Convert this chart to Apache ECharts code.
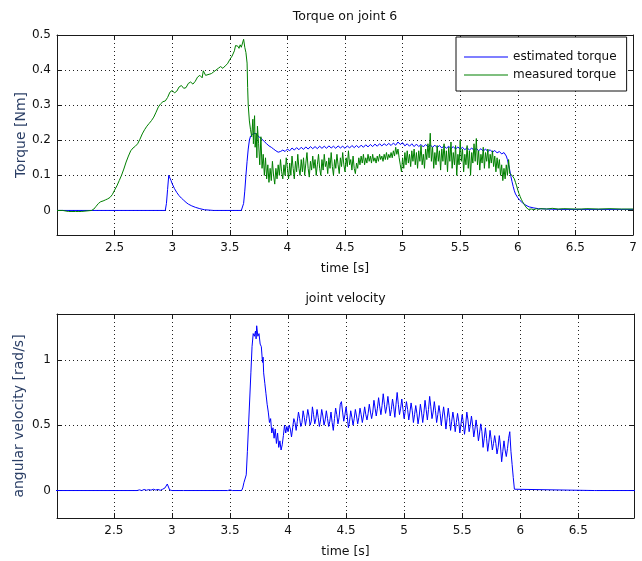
<!DOCTYPE html>
<html>
<head>
<meta charset="utf-8">
<script src="https://cdn.jsdelivr.net/npm/echarts@6/dist/echarts.min.js"></script>
<style>
html,body{margin:0;padding:0;background:#fff;}
#chart{width:642px;height:561px;}
</style>
</head>
<body>
<div id="chart"></div>
<script>
// ---------------- data ----------------
const topTitle = 'Torque on joint 6';
const bottomTitle = 'joint velocity';
const xName = 'time [s]';
const topYName = 'Torque [Nm]';
const bottomYName = 'angular velocity [rad/s]';
const seriesNames = ['estimated torque', 'measured torque'];

const estimatedTorque = [
[2.00,0],[2.94,0],[2.95,0.02],[2.96,0.06],[2.97,0.1],[2.98,0.095],[2.99,0.085],[3.00,0.076],[3.02,0.062],[3.04,0.051],[3.06,0.042],[3.08,0.035],[3.10,0.029],[3.12,0.023],[3.14,0.018],[3.17,0.013],[3.20,0.009],[3.24,0.005],[3.28,0.002],[3.32,0.001],[3.36,0],[3.60,0],[3.61,0.005],[3.62,0.02],[3.63,0.055],[3.64,0.1],[3.65,0.14],[3.66,0.175],[3.67,0.2],[3.68,0.212],[3.70,0.218],[3.72,0.22],[3.74,0.214],[3.76,0.208],[3.78,0.203],[3.80,0.196],[3.82,0.19],[3.84,0.184],[3.86,0.18],[3.88,0.175],[3.90,0.17],[3.92,0.166],[3.94,0.168],
[3.96,0.172],[3.98,0.168],[4.00,0.175],[4.02,0.17],[4.04,0.178],[4.06,0.172],[4.08,0.179],[4.10,0.173],[4.12,0.18],[4.14,0.174],[4.16,0.181],[4.18,0.175],[4.20,0.182],[4.22,0.176],[4.24,0.182],[4.26,0.176],[4.28,0.183],[4.30,0.177],[4.32,0.183],[4.34,0.177],[4.36,0.184],[4.38,0.178],[4.40,0.183],[4.42,0.177],[4.44,0.184],[4.46,0.178],[4.48,0.183],[4.50,0.177],[4.52,0.184],[4.54,0.178],[4.56,0.185],[4.58,0.179],[4.60,0.185],[4.62,0.179],[4.64,0.186],[4.66,0.18],[4.68,0.187],[4.70,0.181],[4.72,0.188],[4.74,0.182],[4.76,0.189],[4.78,0.183],[4.80,0.19],[4.82,0.184],[4.84,0.19],[4.86,0.185],[4.88,0.191],[4.90,0.185],[4.92,0.192],[4.94,0.186],[4.96,0.195],[4.98,0.188],
[5.00,0.193],[5.02,0.184],[5.04,0.19],[5.06,0.183],[5.08,0.19],[5.10,0.182],[5.12,0.189],[5.14,0.182],[5.16,0.188],[5.18,0.181],[5.20,0.188],[5.22,0.181],[5.24,0.187],[5.26,0.18],[5.28,0.186],[5.30,0.179],[5.32,0.185],[5.34,0.178],[5.36,0.184],[5.38,0.177],[5.40,0.183],[5.42,0.176],[5.44,0.182],[5.46,0.175],[5.48,0.181],[5.50,0.174],[5.52,0.18],[5.54,0.173],[5.56,0.179],[5.58,0.172],[5.60,0.178],[5.62,0.171],[5.64,0.177],[5.66,0.17],[5.68,0.176],[5.70,0.169],[5.72,0.175],[5.74,0.168],[5.76,0.173],[5.78,0.166],[5.80,0.171],[5.82,0.164],[5.84,0.168],[5.86,0.161],[5.88,0.165],[5.90,0.155],[5.91,0.145],[5.92,0.13],[5.93,0.115],[5.94,0.097],[5.95,0.082],[5.96,0.068],[5.97,0.056],[5.98,0.047],[6.00,0.036],[6.02,0.028],[6.04,0.022],[6.06,0.017],[6.08,0.013],[6.10,0.01],[6.14,0.007],[6.18,0.005],[6.25,0.004],[6.35,0.003],[7.00,0.003]
];

const measuredTorque = [
[2.00,0],[2.05,0],[2.06,-0.003],[2.10,-0.003],[2.11,0],[2.13,-0.003],[2.16,-0.003],[2.17,0],[2.19,-0.003],[2.21,-0.003],[2.22,0],[2.30,0],[2.32,0.004],[2.34,0.012],[2.36,0.02],[2.38,0.025],[2.40,0.027],[2.42,0.03],[2.44,0.033],[2.46,0.037],[2.48,0.045],[2.50,0.058],[2.52,0.07],[2.54,0.085],[2.56,0.1],[2.58,0.118],[2.60,0.138],[2.62,0.155],[2.64,0.17],[2.66,0.178],[2.68,0.183],[2.70,0.19],[2.72,0.203],[2.74,0.218],[2.76,0.23],[2.78,0.24],[2.80,0.248],[2.82,0.256],[2.84,0.266],[2.86,0.28],[2.88,0.295],[2.90,0.304],[2.92,0.31],[2.93,0.315],[2.94,0.312],[2.96,0.322],[2.98,0.337],[3.00,0.342],[3.02,0.335],[3.04,0.34],[3.06,0.352],[3.08,0.356],[3.10,0.348],[3.12,0.35],[3.14,0.362],[3.16,0.366],[3.18,0.36],[3.20,0.368],[3.22,0.38],[3.24,0.385],[3.26,0.378],[3.27,0.398],[3.28,0.4],[3.29,0.385],[3.30,0.39],[3.32,0.388],[3.34,0.39],[3.36,0.395],[3.38,0.4],[3.40,0.405],[3.42,0.41],[3.44,0.405],[3.46,0.412],[3.48,0.418],[3.50,0.43],[3.52,0.44],[3.54,0.455],[3.55,0.47],[3.56,0.475],[3.57,0.468],[3.58,0.462],[3.59,0.472],[3.60,0.465],[3.61,0.47],[3.62,0.488],[3.63,0.465],[3.64,0.45],[3.65,0.42],[3.655,0.35],[3.66,0.3],[3.67,0.255],[3.68,0.23],[3.69,0.21],[3.70,0.26],[3.705,0.19],[3.71,0.24],[3.715,0.27],[3.72,0.18],[3.73,0.22],[3.735,0.15],[3.74,0.24],[3.75,0.19],
[3.76,0.13],[3.77,0.21],[3.78,0.12],[3.79,0.16],[3.80,0.1],[3.81,0.15],[3.82,0.09],[3.83,0.13],[3.84,0.08],[3.85,0.12],[3.86,0.085],[3.87,0.14],[3.88,0.1],[3.89,0.075],[3.90,0.12],[3.91,0.09],[3.92,0.13],[3.93,0.1],[3.94,0.145],[3.95,0.11],[3.96,0.09],[3.97,0.13],[3.98,0.1],[3.99,0.15],
[4.00,0.12],[4.01,0.09],[4.02,0.135],[4.03,0.1],[4.04,0.155],[4.05,0.12],[4.06,0.09],[4.07,0.14],[4.08,0.11],[4.09,0.16],[4.10,0.12],[4.11,0.1],[4.12,0.145],[4.13,0.11],[4.14,0.15],[4.15,0.1],[4.16,0.135],[4.17,0.165],[4.18,0.12],[4.19,0.095],[4.20,0.14],[4.21,0.115],[4.22,0.155],[4.23,0.12],[4.24,0.145],[4.25,0.1],[4.26,0.13],[4.27,0.16],[4.28,0.12],[4.29,0.1],[4.30,0.145],[4.31,0.115],[4.32,0.16],[4.33,0.125],[4.34,0.14],[4.35,0.105],[4.36,0.15],[4.37,0.12],[4.38,0.165],[4.39,0.125],[4.40,0.1],[4.41,0.145],[4.42,0.12],[4.43,0.16],[4.44,0.13],[4.45,0.105],[4.46,0.15],[4.47,0.125],[4.48,0.165],[4.49,0.13],[4.50,0.11],[4.51,0.15],[4.52,0.125],[4.53,0.17],[4.54,0.13],[4.55,0.145],[4.56,0.115],[4.57,0.155],[4.58,0.12],[4.59,0.105],[4.60,0.135],[4.61,0.12],[4.62,0.15],[4.63,0.13],[4.64,0.155],[4.65,0.135],[4.66,0.16],[4.67,0.13],[4.68,0.15],[4.69,0.135],[4.70,0.16],[4.71,0.14],[4.72,0.155],[4.73,0.135],[4.74,0.16],[4.75,0.14],[4.76,0.15],[4.77,0.135],[4.78,0.155],[4.79,0.14],[4.80,0.16],[4.81,0.145],[4.82,0.155],[4.83,0.14],[4.84,0.16],[4.85,0.145],[4.86,0.165],[4.87,0.145],[4.88,0.16],[4.89,0.15],[4.90,0.165],[4.91,0.15],[4.92,0.17],[4.93,0.155],[4.94,0.18],[4.95,0.16],[4.96,0.175],[4.97,0.15],[4.98,0.13],[4.99,0.11],
[5.00,0.15],[5.01,0.12],[5.02,0.165],[5.03,0.13],[5.04,0.17],[5.05,0.135],[5.06,0.16],[5.07,0.125],[5.08,0.17],[5.09,0.14],[5.10,0.175],[5.11,0.13],[5.12,0.165],[5.13,0.12],[5.14,0.17],[5.15,0.14],[5.16,0.185],[5.17,0.13],[5.18,0.16],[5.19,0.12],[5.20,0.175],[5.21,0.145],[5.22,0.19],[5.23,0.15],[5.24,0.22],[5.25,0.14],[5.26,0.18],[5.27,0.12],[5.28,0.165],[5.29,0.13],[5.30,0.185],[5.31,0.14],[5.32,0.17],[5.33,0.115],[5.34,0.175],[5.35,0.14],[5.36,0.19],[5.37,0.13],[5.38,0.17],[5.39,0.11],[5.40,0.18],[5.41,0.14],[5.42,0.195],[5.43,0.12],[5.44,0.165],[5.45,0.13],[5.46,0.185],[5.47,0.1],[5.48,0.16],[5.49,0.13],[5.50,0.2],[5.51,0.14],[5.52,0.175],[5.53,0.11],[5.54,0.16],[5.55,0.13],[5.56,0.185],[5.57,0.12],[5.58,0.17],[5.59,0.1],[5.60,0.165],[5.61,0.135],[5.62,0.19],[5.63,0.14],[5.64,0.205],[5.65,0.13],[5.66,0.17],[5.67,0.115],[5.68,0.16],[5.69,0.135],[5.70,0.18],[5.71,0.12],[5.72,0.165],[5.73,0.14],[5.74,0.175],[5.75,0.12],[5.76,0.16],[5.77,0.135],[5.78,0.17],[5.79,0.125],[5.80,0.155],[5.81,0.11],[5.82,0.15],[5.83,0.12],[5.84,0.145],[5.85,0.1],[5.86,0.13],[5.87,0.085],[5.88,0.12],[5.89,0.09],[5.90,0.13],[5.91,0.1],[5.92,0.145],[5.93,0.105],[5.94,0.11],[5.95,0.1],[5.96,0.1],[5.97,0.09],[5.98,0.08],[5.99,0.07],
[6.00,0.058],[6.01,0.048],[6.02,0.04],[6.03,0.032],[6.04,0.026],[6.05,0.02],[6.06,0.015],[6.07,0.01],[6.08,0.006],[6.09,0.003],[6.10,0.001],[6.12,0.004],[6.14,0.002],[6.16,0.005],[6.18,0.003],[6.20,0.005],[6.25,0.004],[6.30,0.006],[6.35,0.004],[6.40,0.005],[6.50,0.004],[6.55,0.004],[6.60,0.005],[6.70,0.004],[6.80,0.005],[6.90,0.004],[7.00,0.004]
];

const angularVelocity = [
[2.00,0],[2.70,0],[2.72,0.005],[2.74,0],[2.76,0.008],[2.78,0.002],[2.80,0.007],[2.82,0.003],[2.84,0.01],[2.86,0.004],[2.88,0.008],[2.90,0.002],[2.92,0.01],[2.94,0.02],[2.96,0.05],[2.97,0.04],[2.98,0.005],[3.00,0],[3.08,0],[3.09,0.005],[3.10,0],[3.48,0],[3.50,0.005],[3.52,0],[3.60,0],[3.61,0.02],[3.62,0.06],[3.63,0.05],[3.64,0.12],[3.65,0.3],[3.66,0.5],[3.67,0.7],[3.68,0.9],[3.69,1.1],[3.70,1.2],[3.71,1.18],[3.72,1.22],[3.725,1.16],[3.73,1.26],[3.74,1.18],[3.75,1.2],[3.76,1.12],[3.77,1.1],[3.78,0.98],[3.785,1.02],[3.79,0.9],[3.80,0.82],[3.81,0.74],[3.82,0.66],[3.83,0.6],[3.84,0.52],[3.85,0.55],[3.86,0.44],[3.87,0.48],[3.88,0.4],[3.89,0.47],[3.90,0.36],[3.91,0.44],[3.92,0.33],[3.93,0.38],[3.94,0.31],[3.95,0.35],[3.96,0.42],[3.97,0.5],[3.98,0.44],[3.99,0.49],
[4.00,0.45],[4.01,0.5],[4.02,0.47],[4.03,0.41],[4.04,0.48],[4.05,0.55],[4.06,0.52],[4.07,0.46],[4.08,0.53],[4.09,0.6],[4.10,0.55],[4.11,0.49],[4.12,0.52],[4.13,0.61],[4.14,0.56],[4.15,0.5],[4.16,0.55],[4.17,0.62],[4.18,0.57],[4.19,0.5],[4.20,0.53],[4.21,0.64],[4.22,0.58],[4.23,0.51],[4.24,0.55],[4.25,0.62],[4.26,0.56],[4.27,0.49],[4.28,0.54],[4.29,0.62],[4.30,0.57],[4.31,0.5],[4.32,0.54],[4.33,0.61],[4.34,0.55],[4.35,0.49],[4.36,0.53],[4.37,0.6],[4.38,0.52],[4.39,0.46],[4.40,0.55],[4.41,0.63],[4.42,0.58],[4.43,0.51],[4.44,0.56],[4.45,0.66],[4.46,0.68],[4.47,0.6],[4.48,0.53],[4.49,0.58],[4.50,0.64],[4.51,0.57],[4.52,0.48],[4.53,0.53],[4.54,0.61],[4.55,0.56],[4.56,0.5],[4.57,0.55],[4.58,0.62],[4.59,0.57],[4.60,0.51],[4.61,0.56],[4.62,0.63],[4.63,0.58],[4.64,0.52],[4.65,0.57],[4.66,0.64],[4.67,0.58],[4.68,0.54],[4.69,0.59],[4.70,0.66],[4.71,0.6],[4.72,0.55],[4.73,0.6],[4.74,0.69],[4.75,0.63],[4.76,0.57],[4.77,0.63],[4.78,0.71],[4.79,0.64],[4.80,0.58],[4.81,0.65],[4.82,0.74],[4.83,0.66],[4.84,0.59],[4.85,0.64],[4.86,0.72],[4.87,0.65],[4.88,0.57],[4.89,0.62],[4.90,0.7],[4.91,0.64],[4.92,0.56],[4.93,0.66],[4.94,0.75],[4.95,0.66],[4.96,0.58],[4.97,0.63],[4.98,0.7],[4.99,0.62],
[5.00,0.55],[5.01,0.61],[5.02,0.68],[5.03,0.62],[5.04,0.54],[5.05,0.6],[5.06,0.67],[5.07,0.61],[5.08,0.52],[5.09,0.58],[5.10,0.65],[5.11,0.59],[5.12,0.51],[5.13,0.57],[5.14,0.66],[5.15,0.6],[5.16,0.52],[5.17,0.59],[5.18,0.69],[5.19,0.62],[5.20,0.54],[5.21,0.62],[5.22,0.72],[5.23,0.64],[5.24,0.55],[5.25,0.6],[5.26,0.68],[5.27,0.61],[5.28,0.52],[5.29,0.58],[5.30,0.65],[5.31,0.59],[5.32,0.5],[5.33,0.57],[5.34,0.64],[5.35,0.57],[5.36,0.47],[5.37,0.55],[5.38,0.63],[5.39,0.56],[5.40,0.46],[5.41,0.53],[5.42,0.6],[5.43,0.54],[5.44,0.45],[5.45,0.52],[5.46,0.59],[5.47,0.53],[5.48,0.44],[5.49,0.51],[5.50,0.58],[5.51,0.52],[5.52,0.43],[5.53,0.5],[5.54,0.6],[5.55,0.54],[5.56,0.45],[5.57,0.5],[5.58,0.57],[5.59,0.5],[5.60,0.41],[5.61,0.47],[5.62,0.54],[5.63,0.47],[5.64,0.38],[5.65,0.44],[5.66,0.51],[5.67,0.45],[5.68,0.33],[5.69,0.4],[5.70,0.48],[5.71,0.4],[5.72,0.3],[5.73,0.37],[5.74,0.46],[5.75,0.39],[5.76,0.31],[5.77,0.36],[5.78,0.42],[5.79,0.36],[5.80,0.28],[5.81,0.33],[5.82,0.42],[5.83,0.34],[5.84,0.22],[5.85,0.3],[5.86,0.38],[5.87,0.31],[5.88,0.26],[5.89,0.32],[5.90,0.4],[5.91,0.45],[5.92,0.3],[5.93,0.2],[5.94,0.1],[5.95,0.01],[5.96,0],[6.64,0],[6.65,0.006],[6.66,0],[7.00,0]
];

// axis limits (MATLAB xlim / ylim)
const topXRange = [2.0, 7.0];
const topYRange = [-0.07, 0.5];
const bottomXRange = [2.01, 6.98];
const bottomYRange = [-0.21, 1.35];

// ---------------- styling ----------------
const FONT = 'DejaVu Sans';
const AXIS_COLOR = '#1a1a1a';
const LABEL_COLOR = '#2b3f66';

function isMultiple(v, step) {
  const r = v / step;
  return Math.abs(r - Math.round(r)) < 1e-6;
}
function fmt(v) { return String(Math.round(v * 10) / 10); }

function xLabelFmt(v) { return (isMultiple(v, 0.5) && v > 2.2) ? fmt(v) : ''; }
function yTopFmt(v) { return (isMultiple(v, 0.1) && v > -0.001) ? fmt(v) : ''; }
function yBotFmt(v) { return (isMultiple(v, 0.5) && v > -0.001) ? fmt(v) : ''; }

const gridLine = { show: true, lineStyle: { color: '#222', width: 1, type: [1, 3] } };

function mainX(gi, range, name) {
  return {
    type: 'value', gridIndex: gi, position: 'bottom', min: range[0], max: range[1],
    minInterval: 0.5, maxInterval: 0.5, splitNumber: 10,
    axisLine: { show: true, onZero: false, lineStyle: { color: AXIS_COLOR, width: 1 } },
    axisTick: { show: true, inside: true, length: 5, lineStyle: { color: AXIS_COLOR } },
    axisLabel: { show: true, formatter: xLabelFmt, margin: 7, color: '#111', fontFamily: FONT, fontSize: 12 },
    splitLine: gridLine,
    name: name, nameLocation: 'middle', nameGap: 27, nameMoveOverlap: false,
    nameTextStyle: { color: '#111', fontFamily: FONT, fontSize: 12.5 }
  };
}
function mirrorX(gi, range, title, gap) {
  return {
    type: 'value', gridIndex: gi, position: 'top', min: range[0], max: range[1],
    minInterval: 0.5, maxInterval: 0.5, splitNumber: 10,
    axisLine: { show: true, onZero: false, lineStyle: { color: AXIS_COLOR, width: 1 } },
    axisTick: { show: true, inside: true, length: 5, lineStyle: { color: AXIS_COLOR } },
    axisLabel: { show: false }, splitLine: { show: false },
    name: title, nameLocation: 'middle', nameGap: gap, nameMoveOverlap: false,
    nameTextStyle: { color: '#111', fontFamily: FONT, fontSize: 12.5 }
  };
}
function mainY(gi, range, step, formatter, name, gap) {
  return {
    type: 'value', gridIndex: gi, position: 'left', min: range[0], max: range[1],
    minInterval: step, maxInterval: step, splitNumber: 6,
    axisLine: { show: true, onZero: false, lineStyle: { color: AXIS_COLOR, width: 1 } },
    axisTick: { show: true, inside: true, length: 5, lineStyle: { color: AXIS_COLOR } },
    axisLabel: { show: true, formatter: formatter, margin: 6, color: '#111', fontFamily: FONT, fontSize: 12 },
    splitLine: gridLine,
    name: name, nameLocation: 'middle', nameGap: gap, nameMoveOverlap: false,
    nameTextStyle: { color: LABEL_COLOR, fontFamily: FONT, fontSize: 14 }
  };
}
function mirrorY(gi, range, step) {
  return {
    type: 'value', gridIndex: gi, position: 'right', min: range[0], max: range[1],
    minInterval: step, maxInterval: step, splitNumber: 6,
    axisLine: { show: true, onZero: false, lineStyle: { color: AXIS_COLOR, width: 1 } },
    axisTick: { show: true, inside: true, length: 5, lineStyle: { color: AXIS_COLOR } },
    axisLabel: { show: false }, splitLine: { show: false }
  };
}

function lineSeries(name, data, xi, yi, color, z) {
  return {
    name: name, type: 'line', data: data, xAxisIndex: xi, yAxisIndex: yi,
    symbol: 'none', showSymbol: false, smooth: false, sampling: null, clip: true,
    lineStyle: { color: color, width: 1 }, itemStyle: { color: color },
    z: z, animation: false
  };
}

const chart = echarts.init(document.getElementById('chart'), null, { renderer: 'canvas' });
chart.setOption({
  animation: false,
  backgroundColor: '#fff',
  textStyle: { fontFamily: FONT },
  grid: [
    { left: 57, right: 9, top: 35, height: 200 },
    { left: 57, right: 8, top: 314, height: 204 }
  ],
  xAxis: [
    mainX(0, topXRange, xName),
    mirrorX(0, topXRange, topTitle, 12),
    mainX(1, bottomXRange, xName),
    mirrorX(1, bottomXRange, bottomTitle, 9)
  ],
  yAxis: [
    mainY(0, topYRange, 0.1, yTopFmt, topYName, 29),
    mirrorY(0, topYRange, 0.1),
    mainY(1, bottomYRange, 0.5, yBotFmt, bottomYName, 31),
    mirrorY(1, bottomYRange, 0.5)
  ],
  legend: {
    data: seriesNames.map(function (n) { return { name: n, icon: 'rect' }; }),
    orient: 'vertical', left: 456, top: 37,
    padding: [14, 10, 10, 8], itemWidth: 44, itemHeight: 1, itemGap: 6,
    backgroundColor: '#fff', borderColor: '#111', borderWidth: 1, borderRadius: 0,
    textStyle: { color: '#111', fontFamily: FONT, fontSize: 12 },
    z: 10
  },
  series: [
    lineSeries(seriesNames[0], estimatedTorque, 0, 0, '#0000ff', 2),
    lineSeries(seriesNames[1], measuredTorque, 0, 0, '#008000', 3),
    lineSeries('angular velocity', angularVelocity, 2, 2, '#0000ff', 2)
  ]
});
</script>
</body>
</html>
